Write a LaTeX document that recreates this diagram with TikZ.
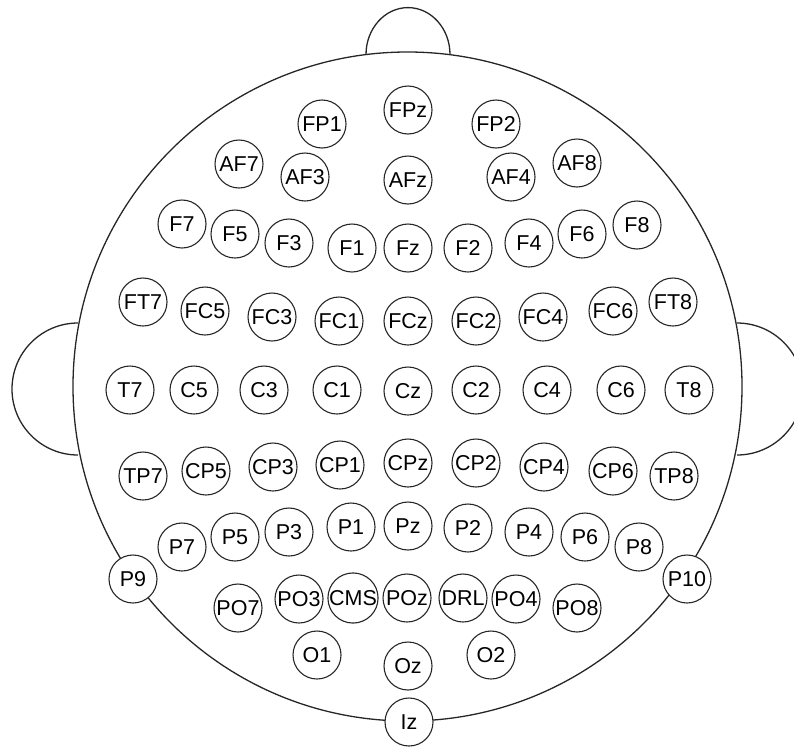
\documentclass[tikz,border=0pt]{standalone}
\usepackage{fontspec}
\setmainfont{Liberation Sans}
\usetikzlibrary{positioning}

\begin{document}
\begin{tikzpicture}[x=1pt,y=-1pt,
  elec/.style={circle,draw=black!85,fill=white,line width=1.1pt,minimum size=48pt,
    inner sep=0pt,font=\fontsize{21.5}{25}\selectfont},
  outline/.style={black!85,line width=1.3pt}]
\useasboundingbox (0,0) rectangle (794,747);
% head outline, nose and ears
\coordinate (hc) at (407.5,386.5);
\draw[outline] (hc) circle[radius=334.5pt];
\coordinate (nose) at (366,54.6);
\draw[outline] (nose) arc[start angle=180,end angle=0,x radius=42pt,y radius=47pt];
\coordinate (earL) at (78,323);
\draw[outline] (earL) arc[start angle=90,end angle=270,radius=66pt];
\coordinate (earR) at (737,323);
\draw[outline] (earR) arc[start angle=90,end angle=-90,radius=66pt];
% frontal rows
\foreach \lab/\x/\y in {FP1/322/124,FPz/408/110,FP2/496/124,
  AF7/239/164,AF3/305/177,AFz/408/180,AF4/511/177,AF8/577/163,
  F7/182/224,F5/235/234,F3/289/243,F1/352/248,Fz/408/248,
  F2/468/248,F4/529/243,F6/582/234,F8/637/225}
  \node[elec] (\lab) at (\x,\y) {\lab};
% central rows
\foreach \lab/\x/\y in {FT7/143/302,FC5/205/311,FC3/272/317,FC1/339/321,FCz/408/321,
  FC2/476/321,FC4/543/317,FC6/613/311,FT8/673/302,
  T7/130/390,C5/194/390,C3/264/390,C1/337/390,Cz/408/391,
  C2/476/390,C4/547/390,C6/621/390,T8/689/390,
  TP7/143/476,CP5/206/471,CP3/273/467,CP1/340/465,CPz/408/463,
  CP2/476/463,CP4/544/467,CP6/613/471,TP8/674/476}
  \node[elec] (\lab) at (\x,\y) {\lab};
% parietal and occipital rows
\foreach \lab/\x/\y in {P9/133/579,P7/182/547,P5/235/537,P3/289/532,P1/351/527,Pz/408/526,
  P2/468/528,P4/529/532,P6/585/537,P8/639/547,P10/687/579,
  PO7/238/608,PO3/299/599,CMS/353/598,POz/407/598,DRL/463/598,PO4/516/599,PO8/577/608,
  O1/317/655,Oz/408/666,O2/491/655,Iz/409/722}
  \node[elec] (\lab) at (\x,\y) {\lab};
\end{tikzpicture}
\end{document}
